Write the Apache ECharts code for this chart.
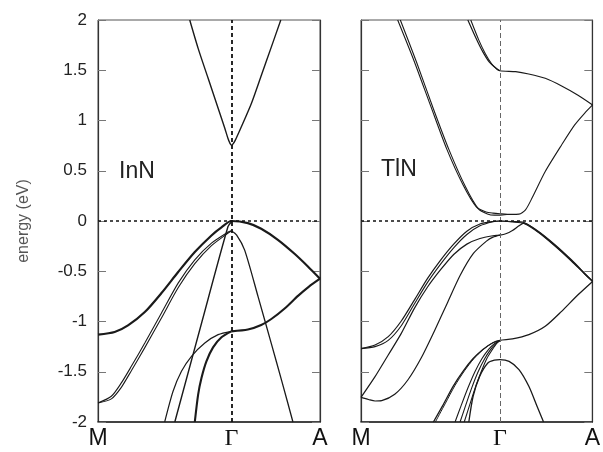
<!DOCTYPE html>
<html>
<head>
<meta charset="utf-8">
<script src="https://cdn.jsdelivr.net/npm/echarts@6/dist/echarts.min.js"></script>
<style>
html,body{margin:0;padding:0;background:#fff;}
#c{width:603px;height:452px;}
</style>
</head>
<body>
<div id="c"></div>
<script>
// ---- axis data ----
const kTicks = [0, 1, 1.665];
const kLabels = ['M', 'Γ', 'A'];
const eMin = -2, eMax = 2, eStep = 0.5;
const panelNames = ['InN', 'TlN'];
const fermiLevel = 0;
const gammaK = 1;

// ---- InN bands: [k, E(eV)] ----
const innCB = [[0.688,2.0],[0.751,1.718],[0.826,1.42],[0.901,1.122],[0.951,0.923],[0.975,0.82],[0.99,0.772],[1.0,0.755],[1.01,0.762],[1.03,0.805],[1.076,0.94],[1.151,1.172],[1.226,1.453],[1.301,1.735],[1.371,2.0]];
const innHH = [[0,-1.131],[0.125,-1.105],[0.225,-1.039],[0.351,-0.906],[0.476,-0.717],[0.601,-0.508],[0.726,-0.309],[0.851,-0.144],[0.926,-0.064],[1.0,0],[1.124,-0.021],[1.224,-0.077],[1.349,-0.187],[1.474,-0.326],[1.574,-0.452],[1.665,-0.574]];
const innLH1 = [[0,-1.81],[0.1,-1.744],[0.175,-1.611],[0.25,-1.446],[0.351,-1.214],[0.476,-0.916],[0.601,-0.618],[0.726,-0.386],[0.851,-0.22],[0.976,-0.11],[1.0,-0.097]];
const innLH2 = [[0,-1.81],[0.1,-1.77],[0.175,-1.655],[0.25,-1.49],[0.351,-1.26],[0.476,-0.965],[0.601,-0.665],[0.726,-0.425],[0.851,-0.245],[0.976,-0.12],[1.0,-0.1]];
const innSteepL = [[0.576,-2.0],[0.78,-1.0],[0.975,-0.055],[1.0,-0.01]];
const innSteepR = [[1.0,-0.097],[1.04,-0.14],[1.1,-0.29],[1.2,-0.75],[1.3,-1.22],[1.38,-1.6],[1.462,-2.0]];
const innSO1 = [[0.5,-2.0],[0.563,-1.694],[0.626,-1.495],[0.701,-1.346],[0.801,-1.214],[0.901,-1.131],[1.0,-1.098]];
const innSO2 = [[0.726,-2.0],[0.751,-1.727],[0.776,-1.562],[0.813,-1.396],[0.863,-1.257],[0.926,-1.157],[1.0,-1.098]];
const innLowR = [[1.0,-1.098],[1.124,-1.08],[1.224,-1.035],[1.3,-0.975],[1.4,-0.87],[1.5,-0.745],[1.58,-0.655],[1.665,-0.574]];

// ---- TlN bands: [k, E(eV)] ----
const tlnCB1a = [[0.264,2.0],[0.38,1.60],[0.5,1.15],[0.616,0.72],[0.734,0.36],[0.83,0.14],[0.9,0.09],[0.95,0.078],[1.0,0.072],[1.08,0.066],[1.137,0.068],[1.184,0.111],[1.231,0.228],[1.326,0.492],[1.444,0.757],[1.538,0.956],[1.609,1.072],[1.667,1.155]];
const tlnCB1b = [[0.283,2.0],[0.4,1.58],[0.52,1.12],[0.636,0.70],[0.752,0.34],[0.845,0.12],[0.91,0.07],[0.96,0.058],[1.0,0.058],[1.05,0.064]];
const tlnCB2a = [[0.769,2.0],[0.828,1.818],[0.876,1.685],[0.924,1.58],[0.972,1.52],[1.0,1.495],[1.113,1.486],[1.207,1.463],[1.326,1.42],[1.444,1.344],[1.559,1.254],[1.667,1.155]];
const tlnCB2b = [[0.79,2.0],[0.848,1.80],[0.895,1.665],[0.94,1.565],[0.98,1.51],[1.0,1.495]];
const tlnV1 = [[0,-1.27],[0.101,-1.234],[0.196,-1.151],[0.29,-0.995],[0.384,-0.787],[0.479,-0.571],[0.573,-0.389],[0.667,-0.23],[0.762,-0.101],[0.856,-0.03],[0.95,-0.005],[1.0,0],[1.09,-0.005],[1.172,-0.015],[1.278,-0.104],[1.396,-0.236],[1.514,-0.386],[1.608,-0.518],[1.667,-0.601]];
const tlnV2 = [[0,-1.27],[0.101,-1.25],[0.196,-1.188],[0.29,-1.042],[0.384,-0.826],[0.479,-0.611],[0.573,-0.429],[0.667,-0.267],[0.762,-0.134],[0.856,-0.048],[0.95,-0.008],[1.0,0],[1.09,-0.01],[1.172,-0.025],[1.278,-0.115],[1.396,-0.25],[1.514,-0.398],[1.608,-0.525],[1.667,-0.601]];
const tlnV3 = [[0,-1.755],[0.101,-1.549],[0.196,-1.333],[0.29,-1.118],[0.384,-0.869],[0.479,-0.657],[0.573,-0.485],[0.667,-0.333],[0.762,-0.23],[0.856,-0.174],[0.95,-0.147],[1.0,-0.14],[1.042,-0.127],[1.09,-0.094],[1.137,-0.048],[1.172,-0.021],[1.278,-0.11],[1.396,-0.243],[1.514,-0.392],[1.608,-0.522],[1.667,-0.601]];
const tlnV4 = [[0,-1.755],[0.054,-1.776],[0.101,-1.791],[0.149,-1.787],[0.243,-1.724],[0.337,-1.582],[0.432,-1.366],[0.526,-1.101],[0.62,-0.82],[0.715,-0.538],[0.809,-0.323],[0.903,-0.2],[0.95,-0.16],[1.0,-0.14]];
const tlnB1 = [[0.521,-2.0],[0.592,-1.827],[0.663,-1.645],[0.734,-1.496],[0.804,-1.373],[0.875,-1.28],[0.946,-1.214],[1.0,-1.188],[1.09,-1.174],[1.208,-1.131],[1.326,-1.048],[1.444,-0.899],[1.562,-0.734],[1.667,-0.601]];
const tlnB1b = [[0.535,-2.0],[0.605,-1.82],[0.675,-1.64],[0.745,-1.49],[0.812,-1.37],[0.88,-1.278],[0.948,-1.212],[1.0,-1.188]];
const tlnB2 = [[0.677,-2.0],[0.72,-1.84],[0.77,-1.66],[0.82,-1.5],[0.87,-1.37],[0.92,-1.275],[0.96,-1.22],[1.0,-1.188]];
const tlnB3 = [[0.713,-2.0],[0.752,-1.84],[0.797,-1.66],[0.843,-1.5],[0.89,-1.37],[0.935,-1.275],[0.97,-1.22],[1.0,-1.188]];
const tlnB4 = [[0.743,-2.0],[0.78,-1.84],[0.822,-1.66],[0.865,-1.5],[0.905,-1.37],[0.945,-1.28],[0.975,-1.22],[1.0,-1.19]];
const tlnP = [[0.776,-2.0],[0.807,-1.744],[0.854,-1.546],[0.913,-1.413],[0.96,-1.385],[1.0,-1.38],[1.066,-1.397],[1.137,-1.479],[1.208,-1.645],[1.267,-1.843],[1.314,-2.0]];

// ---- build ----
const LINE = '#1a1a1a';
function band(data, gi, w) {
  return {
    type: 'line', xAxisIndex: gi, yAxisIndex: gi * 2, data: data,
    symbol: 'none', showSymbol: false, smooth: 0.25,
    lineStyle: { color: LINE, width: w }, silent: true, animation: false, z: 3
  };
}
function refLines(gi, vStyle, hStyle) {
  return {
    type: 'line', xAxisIndex: gi, yAxisIndex: gi * 2, data: [], symbol: 'none', silent: true, animation: false, z: 2,
    markLine: {
      symbol: ['none', 'none'], silent: true, animation: false, label: { show: false },
      data: [
        { xAxis: gammaK, lineStyle: vStyle },
        { yAxis: fermiLevel, lineStyle: hStyle }
      ]
    }
  };
}

const grids = [
  { left: 98, top: 20, width: 222, height: 402, show: true, borderColor: '#555', borderWidth: 1, containLabel: false },
  { left: 361, top: 20, width: 235.5, height: 402, show: true, borderColor: '#555', borderWidth: 1, containLabel: false }
];

function xAx(gi) {
  return {
    type: 'value', gridIndex: gi, min: kTicks[0], max: kTicks[2],
    axisLine: { show: true, onZero: false, lineStyle: { color: '#222', width: 1.5 } },
    axisTick: { show: false }, splitLine: { show: false },
    axisLabel: {
      customValues: kTicks, margin: 5, fontSize: 23, color: '#111', fontFamily: 'Liberation Sans',
      showMinLabel: true, showMaxLabel: true,
      formatter: function (v) {
        let i = 0, best = 1e9;
        kTicks.forEach(function (t, j) { if (Math.abs(t - v) < best) { best = Math.abs(t - v); i = j; } });
        return i === 1 ? '{g|' + kLabels[i] + '}' : kLabels[i];
      },
      rich: { g: { fontFamily: 'Liberation Serif', fontSize: 24, color: '#111' } }
    }
  };
}
function yAx(gi, pos, labels) {
  const a = {
    type: 'value', gridIndex: gi, position: pos, min: eMin, max: eMax, interval: eStep,
    axisLine: { show: true, onZero: false, lineStyle: { color: '#333', width: 1.2 } },
    axisTick: { show: true, inside: true, length: 8, lineStyle: { color: '#777', width: 1 } },
    splitLine: { show: false },
    axisLabel: { show: labels, margin: 11, fontSize: 17, color: '#222', fontFamily: 'Liberation Sans' }
  };
  if (labels) {
    a.name = 'energy (eV)';
    a.nameLocation = 'middle';
    a.nameGap = 66;
    a.nameTextStyle = { fontSize: 16, color: '#555', fontFamily: 'Liberation Sans' };
  }
  return a;
}

const series = [
  refLines(0, { color: '#111', type: [4, 3], width: 1.8 }, { color: '#111', type: [3, 3], width: 1.6 }),
  band(innCB, 0, 1.4),
  band(innHH, 0, 2.2),
  band(innLH1, 0, 1.1),
  band(innLH2, 0, 1.1),
  band(innSteepL, 0, 1.4),
  band(innSteepR, 0, 1.3),
  band(innSO1, 0, 1.2),
  band(innSO2, 0, 2.1),
  band(innLowR, 0, 2.1),
  refLines(1, { color: '#666', type: [5, 3], width: 1 }, { color: '#111', type: [3, 3], width: 1.6 }),
  band(tlnCB1a, 1, 1.1),
  band(tlnCB1b, 1, 1.1),
  band(tlnCB2a, 1, 1.2),
  band(tlnCB2b, 1, 1.1),
  band(tlnV1, 1, 1.2),
  band(tlnV2, 1, 1.1),
  band(tlnV3, 1, 1.2),
  band(tlnV4, 1, 1.2),
  band(tlnB1, 1, 1.3),
  band(tlnB1b, 1, 1.0),
  band(tlnB2, 1, 1.1),
  band(tlnB3, 1, 1.1),
  band(tlnB4, 1, 1.1),
  band(tlnP, 1, 1.3)
];

const chart = echarts.init(document.getElementById('c'), null, { renderer: 'canvas' });
chart.setOption({
  backgroundColor: '#fff',
  animation: false,
  title: [
    { text: panelNames[0], left: 119, top: 160, padding: 0, textStyle: { fontSize: 23, fontWeight: 'normal', color: '#222', fontFamily: 'Liberation Sans' } },
    { text: panelNames[1], left: 381, top: 158, padding: 0, textStyle: { fontSize: 23, fontWeight: 'normal', color: '#222', fontFamily: 'Liberation Sans' } }
  ],
  grid: grids,
  xAxis: [xAx(0), xAx(1)],
  yAxis: [yAx(0, 'left', true), yAx(0, 'right', false), yAx(1, 'left', false), yAx(1, 'right', false)],
  series: series
});
</script>
</body>
</html>
